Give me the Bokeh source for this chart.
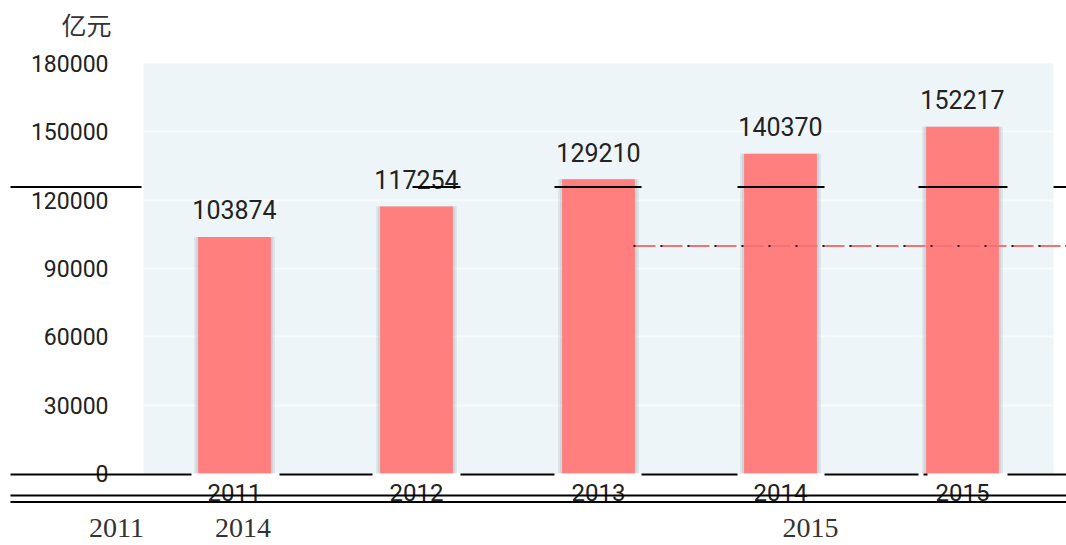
from bokeh.plotting import figure
from bokeh.models import FactorRange, Range1d, FixedTicker, BasicTickFormatter
from bokeh.core.properties import value
from bokeh.embed import file_html
from bokeh.resources import INLINE

# ---- data ----
years = ["2011", "2012", "2013", "2014", "2015"]
revenue = [103874, 117254, 129210, 140370, 152217]
y_ticks = [0, 30000, 60000, 90000, 120000, 150000, 180000]
unit_label = "亿元"
footer_labels = ["2011", "2014", "2015"]

Y_MAX = 180000

p = figure(width=1066, height=545,
           x_range=FactorRange(factors=years, range_padding=0),
           y_range=Range1d(0, Y_MAX),
           output_backend="svg", toolbar_location=None,
           min_border_left=143, min_border_right=13,
           min_border_top=63, min_border_bottom=72)
p.background_fill_color = "#edf5f8"
p.border_fill_color = "white"
p.outline_line_color = None

# axes
p.yaxis.ticker = FixedTicker(ticks=y_ticks)
p.yaxis.formatter = BasicTickFormatter(use_scientific=False)
p.yaxis.axis_line_color = None
p.yaxis.major_tick_line_color = None
p.yaxis.minor_tick_line_color = None
p.yaxis.major_tick_in = 0
p.yaxis.major_tick_out = 0
p.yaxis.major_label_standoff = 35
p.yaxis.major_label_text_font = "Roboto"
p.yaxis.major_label_text_font_size = "23px"
p.yaxis.major_label_text_color = "#222222"

p.xaxis.axis_line_color = None
p.xaxis.major_tick_line_color = None
p.xaxis.major_tick_in = 0
p.xaxis.major_tick_out = 0
p.xaxis.major_label_standoff = 10
p.xaxis.major_label_text_font = "Roboto"
p.xaxis.major_label_text_font_size = "24px"
p.xaxis.major_label_text_color = "#222222"

p.ygrid.ticker = FixedTicker(ticks=y_ticks)
p.ygrid.grid_line_color = "#f8fbfc"
p.ygrid.grid_line_width = 2
p.xgrid.grid_line_color = None

# bars with soft shadow
p.vbar(x=years, top=revenue, width=0.445, color="#9aa8ae", alpha=0.18, line_color=None)
p.vbar(x=years, top=revenue, width=0.425, color="#9aa8ae", alpha=0.25, line_color=None)
p.vbar(x=years, top=revenue, width=0.40, color="#ff7f7f", line_color=None)

p.text(x=years, y=revenue, text=[str(v) for v in revenue],
       text_align="center", text_baseline="middle", y_offset=-27,
       text_font=value("Roboto"), text_font_size="25px", text_color="#222222")

# ---- decorative artefacts of the original picture (pixel positions -> data) ----
def sx(X):
    return (X - 143) / 182.0

def sy(Y):
    return (473 - Y) * Y_MAX / 410.0

def hsegs(spans, Y, color="black", width=2, dash="solid"):
    x0 = [sx(a) for a, b in spans]
    x1 = [sx(b) for a, b in spans]
    yy = [sy(Y)] * len(spans)
    return p.segment(x0=x0, y0=yy, x1=x1, y1=yy, line_color=color,
                     line_width=width, line_dash=dash, level="overlay")

hsegs([(10, 141), (412, 460), (554, 641), (737, 824), (918, 1007), (1053, 1070)], 186.5)
hsegs([(10, 191), (279, 372), (460, 554), (641, 737), (824, 918), (923, 927), (1007, 1070)], 474)
hsegs([(10, 1070)], 495)
hsegs([(10, 1070)], 501.5)
hsegs([(633, 1070)], 245.5, color="#f07474", width=2, dash="22 5")
hsegs([(633, 1070)], 245.5, color="#222222", width=2, dash="2 25")

p.text(x=[sx(86)], y=[sy(23.5)], text=[unit_label], text_align="center",
       text_baseline="middle", text_font=value("Noto Sans CJK SC"),
       text_font_size="25px", text_color="#333333", level="overlay")

p.text(x=[sx(X) for X in [116, 242.5, 810]], y=[sy(527)] * len(footer_labels),
       text=footer_labels, text_align="center", text_baseline="middle",
       text_font=value("Liberation Serif"), text_font_size="28px",
       text_color="#333333", level="overlay")

open("out.html", "w").write(file_html(p, INLINE))
